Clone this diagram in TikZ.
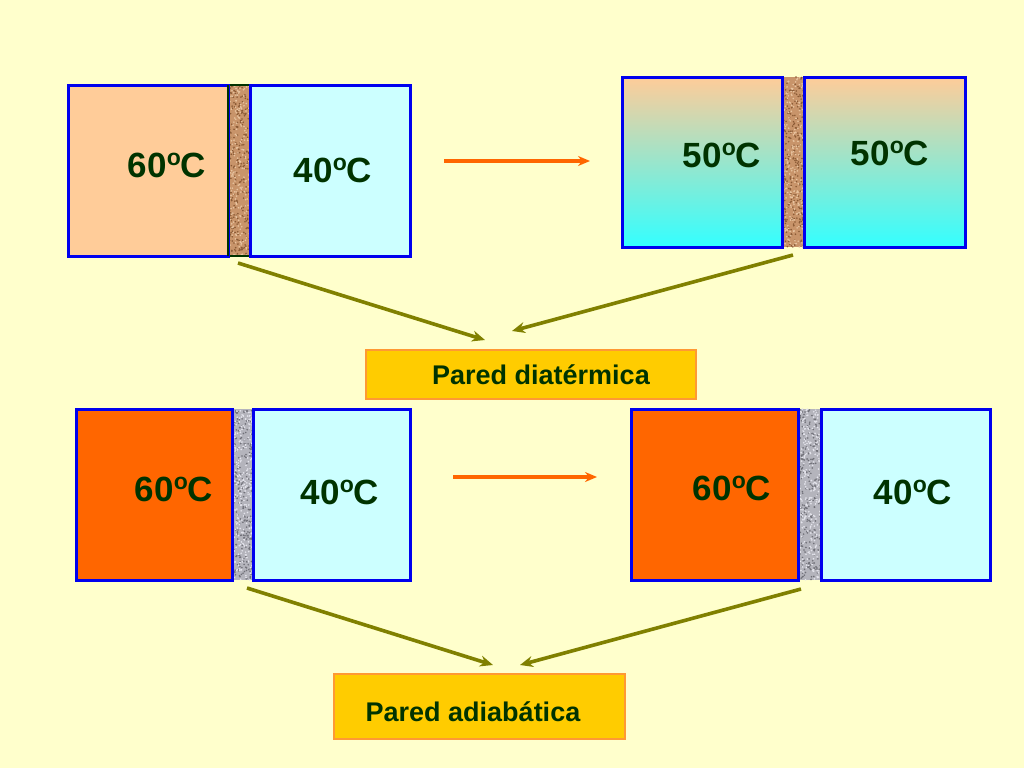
\documentclass[tikz,border=0pt]{standalone}
\usepackage{fontspec}
\setmainfont{Liberation Sans}
\usetikzlibrary{arrows.meta}
\definecolor{bg}{HTML}{FFFFCC}
\definecolor{peach}{HTML}{FFCC99}
\definecolor{lcyan}{HTML}{CCFFFF}
\definecolor{cyanb}{HTML}{33FFFF}
\definecolor{hot}{HTML}{FF6600}
\definecolor{txt}{HTML}{003300}
\definecolor{olivea}{HTML}{808000}
\definecolor{labfill}{HTML}{FFCC00}
\definecolor{labdraw}{HTML}{FF9933}
\definecolor{cork}{HTML}{C8946A}
\definecolor{corkd}{HTML}{8A5A35}
\definecolor{corkl}{HTML}{E8C4A0}
\definecolor{grayw}{HTML}{B4B4BC}
\definecolor{grayd}{HTML}{707078}
\definecolor{grayl}{HTML}{E4E4EC}
\definecolor{boxblue}{HTML}{0000EE}
\newcommand{\dego}{\raisebox{0.33em}{\fontsize{23}{24}\selectfont o}}
\tikzset{
  box/.style={draw=boxblue, line width=3.0pt, inner sep=0pt},
  temp/.style={text=txt, font=\fontsize{35}{40}\selectfont\bfseries, inner sep=0pt},
  lab/.style={fill=labfill, draw=labdraw, line width=1.4pt, inner sep=0pt},
  labtext/.style={text=txt, font=\fontsize{27}{30}\selectfont\bfseries, inner sep=0pt},
  hotarrow/.style={draw=hot, line width=3.4pt, -{Stealth[length=12pt,width=10pt]}},
  olarrow/.style={draw=olivea, line width=3.6pt, -{Stealth[length=13pt,width=11pt]}}
}
\newcommand{\wallcork}[4]{%
  \fill[cork] (#1,#2) rectangle (#3,#4);
  \foreach \i in {1,...,260}{%
    \pgfmathsetmacro\xx{#1+(#3-#1)*rnd}\pgfmathsetmacro\yy{#2+(#4-#2)*rnd}%
    \fill[corkd] (\xx,\yy) circle (0.9);}
  \foreach \i in {1,...,220}{%
    \pgfmathsetmacro\xx{#1+(#3-#1)*rnd}\pgfmathsetmacro\yy{#2+(#4-#2)*rnd}%
    \fill[corkl] (\xx,\yy) circle (0.9);}
}
\newcommand{\wallgray}[4]{%
  \fill[grayw] (#1,#2) rectangle (#3,#4);
  \foreach \i in {1,...,260}{%
    \pgfmathsetmacro\xx{#1+(#3-#1)*rnd}\pgfmathsetmacro\yy{#2+(#4-#2)*rnd}%
    \fill[grayd] (\xx,\yy) circle (0.9);}
  \foreach \i in {1,...,260}{%
    \pgfmathsetmacro\xx{#1+(#3-#1)*rnd}\pgfmathsetmacro\yy{#2+(#4-#2)*rnd}%
    \fill[grayl] (\xx,\yy) circle (0.9);}
}
\begin{document}
\begin{tikzpicture}[x=1pt,y=-1pt]
\pgfmathsetseed{7}
\useasboundingbox[fill=bg] (0,0) rectangle (1024,768);

% ---------- top left ----------
\wallcork{228}{85}{250}{256}
\draw[draw=txt, line width=2.6pt] (228,85) rectangle (250,256);
\node[box, fill=peach, minimum width=160, minimum height=171] (tl1) at (148,170.5) {};
\node[box, fill=lcyan, minimum width=160, minimum height=171] (tl2) at (330,170.5) {};
\draw[draw=txt, line width=2.6pt] (228,85) -- (228,256);
\node[temp] (t60a) at (167,165) {60\dego C};
\node[temp] (t40a) at (333,170) {40\dego C};

% ---------- top right ----------
\wallcork{782}{77}{804}{247}
\node[box, top color=peach, bottom color=cyanb, minimum width=160, minimum height=170] (tr1) at (702,162) {};
\node[box, top color=peach, bottom color=cyanb, minimum width=161, minimum height=170] (tr2) at (884.5,162) {};
\node[temp] (t50a) at (722,155) {50\dego C};
\node[temp] (t50b) at (890,153) {50\dego C};

% ---------- bottom left ----------
\wallgray{232}{409}{253}{580}
\node[box, fill=hot, minimum width=156, minimum height=171] (bl1) at (154,494.5) {};
\node[box, fill=lcyan, minimum width=157, minimum height=171] (bl2) at (331.5,494.5) {};
\node[temp] (t60b) at (174,489) {60\dego C};
\node[temp] (t40b) at (340,492) {40\dego C};

% ---------- bottom right ----------
\wallgray{798}{409}{821}{580}
\node[box, fill=hot, minimum width=167, minimum height=171] (br1) at (714.5,494.5) {};
\node[box, fill=lcyan, minimum width=169, minimum height=171] (br2) at (905.5,494.5) {};
\node[temp] (t60c) at (732,488) {60\dego C};
\node[temp] (t40c) at (913,492) {40\dego C};

% ---------- labels ----------
\node[lab, minimum width=330, minimum height=49] (ld) at (531,374.5) {};
\node[labtext] (ldt) at (541,375) {Pared diatérmica};
\node[lab, minimum width=291, minimum height=65] (la) at (479.5,706.5) {};
\node[labtext] (lat) at (473,712) {Pared adiabática};

% ---------- arrows ----------
\coordinate (h1s) at (444,161); \coordinate (h1e) at (590,161);
\coordinate (h2s) at (453,477); \coordinate (h2e) at (597,477);
\draw[hotarrow] (h1s) -- (h1e);
\draw[hotarrow] (h2s) -- (h2e);

\coordinate (o1s) at (238,263); \coordinate (o1e) at (485,340);
\coordinate (o2s) at (793,255); \coordinate (o2e) at (512,331);
\coordinate (o3s) at (247,588); \coordinate (o3e) at (493,665);
\coordinate (o4s) at (801,589); \coordinate (o4e) at (520,665);
\draw[olarrow] (o1s) -- (o1e);
\draw[olarrow] (o2s) -- (o2e);
\draw[olarrow] (o3s) -- (o3e);
\draw[olarrow] (o4s) -- (o4e);
\end{tikzpicture}
\end{document}
